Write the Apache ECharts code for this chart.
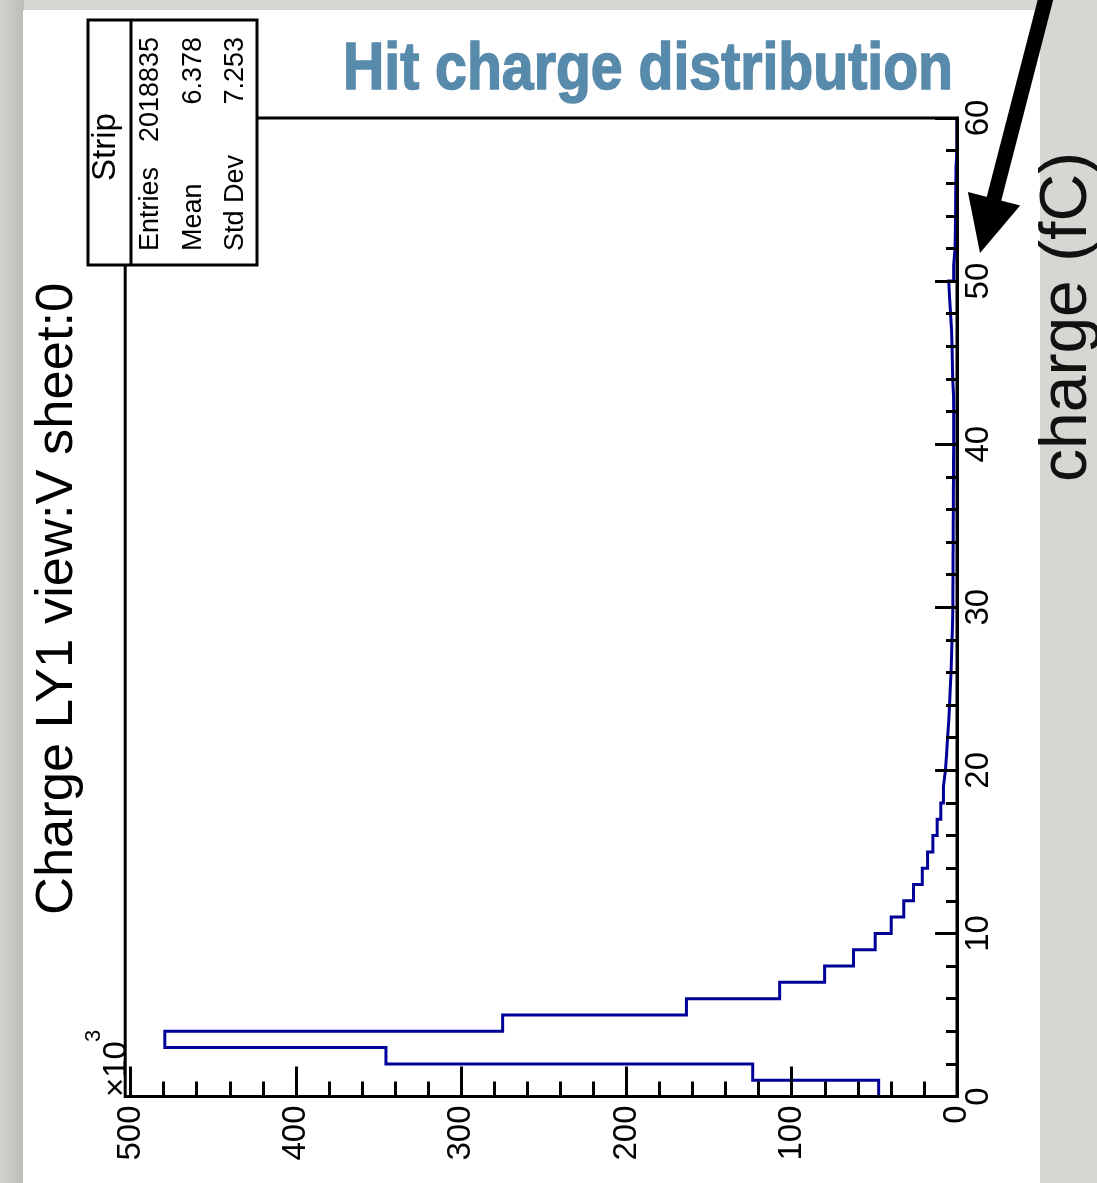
<!DOCTYPE html>
<html>
<head>
<meta charset="utf-8">
<script src="https://cdn.jsdelivr.net/npm/echarts@6/dist/echarts.min.js"></script>
<style>
html,body{margin:0;padding:0;background:#d7d6d2;}
#c{width:1097px;height:1183px;}
</style>
</head>
<body>
<div id="c"></div>
<script>
// ---------------- data ----------------
// lower edge of each 1 fC charge bin
const chargeBinLow = [0,1,2,3,4,5,6,7,8,9,10,11,12,13,14,15,16,17,18,19,20,21,22,23,24,25,26,27,28,29,
  30,31,32,33,34,35,36,37,38,39,40,41,42,43,44,45,46,47,48,49,50,51,52,53,54,55,56,57,58,59];
const binWidth = 1;
// hit counts per bin, in units of 10^3
const countsK = [47.4,123.6,345.5,479.3,274.9,163.7,107.3,80.1,62.6,49.5,
  39.8,32.2,26.3,21.0,17.8,14.6,12.0,9.8,8.2,7.0,
  6.3,5.7,5.0,4.5,4.1,3.6,3.3,3.0,2.7,2.5,
  2.5,2.4,2.4,2.3,2.3,2.2,2.2,2.1,2.1,2.0,
  2.0,2.0,2.1,2.6,2.8,3.0,3.3,3.9,4.5,5.0,
  2.0,1.2,1.0,0.9,0.8,0.7,0.6,0,0,0];
const countTicks = [0,100,200,300,400,500];
const chargeTicks = [0,10,20,30,40,50,60];
const statsTitle = 'Strip';
const statsLabels = ['Entries','Mean','Std Dev'];
const statsValues = ['2018835','6.378','7.253'];
const histTitle = 'Charge LY1 view:V sheet:0';
const slideTitle = 'Hit charge distribution';
const axisTitle = 'charge (fC)';
const multiplierBase = '\u00d710';
const multiplierExp = '3';

// ---------------- layout ----------------
const F = '"Liberation Sans", Arial, Helvetica, sans-serif';
const W = 1097, H = 1183;
const plotTop = 118, plotBottomY = 1096.5, plotRightX = 957;
const frameLeftX = 125.2;
const xMaxFrame = 1.05 * Math.max(...countsK);           // ROOT-style 5% headroom
const pxPerUnit = (plotRightX - frameLeftX) / xMaxFrame;
const axisLeftX = plotRightX - countTicks[countTicks.length-1] * pxPerUnit;

const outline = [];
countsK.forEach((v, i) => {
  outline.push([v, chargeBinLow[i]]);
  outline.push([v, chargeBinLow[i] + binWidth]);
});

// measure title width to emulate condensed bold face
const mctx = document.createElement('canvas').getContext('2d');
const titleFont = 'bold 67px ' + F;
mctx.font = titleFont;
const titleW = mctx.measureText(slideTitle).width;
const titleScale = 610 / titleW;

// arrow geometry
const tip = [980, 253], tail = [1048, -10];
const dx = tip[0]-tail[0], dy = tip[1]-tail[1], L = Math.hypot(dx, dy);
const ux = dx/L, uy = dy/L, px = -uy, py = ux;
const headLen = 56, headHalf = 27, shaftHalf = 7.5;
const bc = [tip[0]-ux*headLen, tip[1]-uy*headLen];
const shaft = [
  [tail[0]+px*shaftHalf, tail[1]+py*shaftHalf],
  [bc[0]+px*shaftHalf+ux*2, bc[1]+py*shaftHalf+uy*2],
  [bc[0]-px*shaftHalf+ux*2, bc[1]-py*shaftHalf+uy*2],
  [tail[0]-px*shaftHalf, tail[1]-py*shaftHalf]
];
const head = [tip, [bc[0]+px*headHalf, bc[1]+py*headHalf], [bc[0]-px*headHalf, bc[1]-py*headHalf]];

const ROT = Math.PI/2;
const statsX = [150.5, 193.5, 235.5];

const graphic = [
  {type:'rect', z:-100, shape:{x:0,y:0,width:W,height:H}, style:{fill:'#d7d6d2'}},
  {type:'rect', z:-99, shape:{x:0,y:0,width:24,height:H}, style:{fill:new echarts.graphic.LinearGradient(0,0,1,0,[{offset:0,color:'#d3d2ce'},{offset:1,color:'#bdbcb8'}])}},
  {type:'rect', z:-98, shape:{x:23,y:10,width:1017,height:H}, style:{fill:'#ffffff'}},
  // slide title
  {type:'text', z:20, x:343, y:71, scaleX:titleScale, style:{text:slideTitle, font:titleFont, fill:'#588aab', stroke:'#588aab', lineWidth:1.6, align:'left', verticalAlign:'middle'}},
  // arrow
  {type:'polygon', z:30, shape:{points:shaft}, style:{fill:'#000'}},
  {type:'polygon', z:30, shape:{points:head}, style:{fill:'#000'}},
  // axis title on grey strip
  {type:'text', z:20, x:1068, y:482, rotation:ROT, style:{text:axisTitle, font:'66px '+F, fill:'#111', align:'left', verticalAlign:'middle'}},
  // histogram title
  {type:'text', z:20, x:58, y:915, rotation:ROT, style:{text:histTitle, font:'52.5px '+F, fill:'#000', align:'left', verticalAlign:'middle'}},
  // multiplier
  {type:'text', z:20, x:117, y:1097, rotation:ROT, style:{text:multiplierBase, font:'33px '+F, fill:'#000', align:'left', verticalAlign:'middle'}},
  {type:'text', z:20, x:94, y:1042, rotation:ROT, style:{text:multiplierExp, font:'22px '+F, fill:'#000', align:'left', verticalAlign:'middle'}},
  // stats box
  {type:'rect', z:15, shape:{x:88,y:20,width:169,height:245}, style:{fill:'#fff', stroke:'#000', lineWidth:3}},
  {type:'line', z:16, shape:{x1:131,y1:20,x2:131,y2:265}, style:{stroke:'#000', lineWidth:3}},
  {type:'text', z:20, x:105.5, y:147, rotation:ROT, style:{text:statsTitle, font:'33px '+F, fill:'#000', align:'center', verticalAlign:'middle'}}
];
statsLabels.forEach((s, i) => {
  graphic.push({type:'text', z:20, x:statsX[i], y:251, rotation:ROT, style:{text:s, font:'27px '+F, fill:'#000', align:'left', verticalAlign:'middle'}});
  graphic.push({type:'text', z:20, x:statsX[i], y:37, rotation:ROT, style:{text:statsValues[i], font:'27px '+F, fill:'#000', align:'right', verticalAlign:'middle'}});
});

const black3 = {color:'#000', width:3};
const option = {
  backgroundColor:'#d7d6d2',
  animation:false,
  grid:[
    {left:frameLeftX, right:W-plotRightX, top:plotTop, bottom:H-plotBottomY, show:true, borderColor:'#000', borderWidth:3, backgroundColor:'transparent', outerBoundsMode:'none', containLabel:false},
    {left:axisLeftX, right:W-plotRightX, top:plotTop, bottom:H-plotBottomY, outerBoundsMode:'none', containLabel:false}
  ],
  xAxis:[
    {gridIndex:0, type:'value', inverse:true, min:0, max:xMaxFrame, show:false},
    {gridIndex:1, type:'value', inverse:true, position:'bottom', z:5,
     min:countTicks[0], max:countTicks[countTicks.length-1], interval:countTicks[1]-countTicks[0],
     axisLine:{show:true, lineStyle:black3},
     axisTick:{show:true, inside:true, length:30, lineStyle:black3},
     minorTick:{show:true, splitNumber:5, length:15, lineStyle:black3},
     splitLine:{show:false},
     axisLabel:{rotate:90, margin:9, fontSize:33, fontFamily:F, color:'#000'}}
  ],
  yAxis:[
    {gridIndex:0, type:'value', min:0, max:60, show:false},
    {gridIndex:1, type:'value', position:'right', z:5,
     min:chargeTicks[0], max:chargeTicks[chargeTicks.length-1], interval:chargeTicks[1]-chargeTicks[0],
     axisLine:{show:true, lineStyle:black3},
     axisTick:{show:true, inside:true, length:22, lineStyle:black3},
     minorTick:{show:true, splitNumber:5, length:11, lineStyle:black3},
     splitLine:{show:false},
     axisLabel:{rotate:90, align:'center', verticalAlign:'top', margin:5, fontSize:33, fontFamily:F, color:'#000'}}
  ],
  series:[{
    type:'line', xAxisIndex:0, yAxisIndex:0, data:outline, symbol:'none', z:2,
    lineStyle:{color:'#000099', width:3, join:'miter'}, clip:true
  }],
  graphic:graphic
};
const chart = echarts.init(document.getElementById('c'), null, {renderer:'canvas', width:W, height:H});
chart.setOption(option);
</script>
</body>
</html>
